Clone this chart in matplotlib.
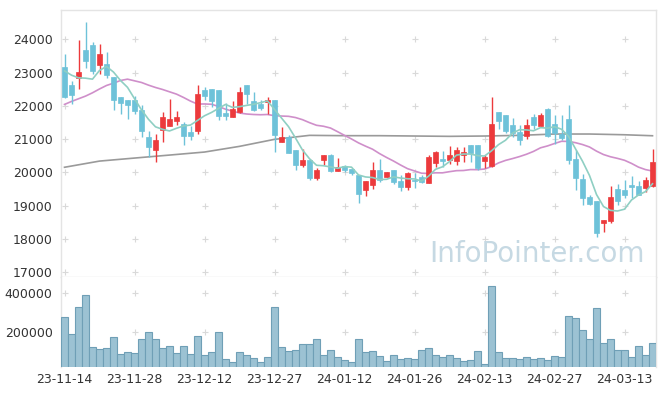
import matplotlib
matplotlib.use("Agg")
import matplotlib.pyplot as plt
import numpy as np
import pandas as pd

# ---------------- data ----------------
dates = [
    "2023-11-14", "2023-11-15", "2023-11-16", "2023-11-17", "2023-11-20", "2023-11-21", "2023-11-22",
    "2023-11-23", "2023-11-24", "2023-11-27", "2023-11-28", "2023-11-29", "2023-11-30", "2023-12-01",
    "2023-12-04", "2023-12-05", "2023-12-06", "2023-12-07", "2023-12-08", "2023-12-11", "2023-12-12",
    "2023-12-13", "2023-12-14", "2023-12-15", "2023-12-18", "2023-12-19", "2023-12-20", "2023-12-21",
    "2023-12-22", "2023-12-26", "2023-12-27", "2023-12-28", "2024-01-02", "2024-01-03", "2024-01-04",
    "2024-01-05", "2024-01-08", "2024-01-09", "2024-01-10", "2024-01-11", "2024-01-12", "2024-01-15",
    "2024-01-16", "2024-01-17", "2024-01-18", "2024-01-19", "2024-01-22", "2024-01-23", "2024-01-24",
    "2024-01-25", "2024-01-26", "2024-01-29", "2024-01-30", "2024-01-31", "2024-02-01", "2024-02-02",
    "2024-02-05", "2024-02-06", "2024-02-07", "2024-02-08", "2024-02-13", "2024-02-14", "2024-02-15",
    "2024-02-16", "2024-02-19", "2024-02-20", "2024-02-21", "2024-02-22", "2024-02-23", "2024-02-26",
    "2024-02-27", "2024-02-28", "2024-02-29", "2024-03-04", "2024-03-05", "2024-03-06", "2024-03-07",
    "2024-03-08", "2024-03-11", "2024-03-12", "2024-03-13", "2024-03-14", "2024-03-15", "2024-03-18",
    "2024-03-19",
]

opens = [23175, 22624, 22844, 23678, 23828, 23226, 23257, 22865, 22263, 22173,
         22173, 21872, 21050, 20668, 21270, 21400, 21541, 21450, 21210, 21249,
         22474, 22504, 22474, 21773, 21652, 21803, 22624, 22150, 22052, 22104,
         22173, 20900, 21069, 20668, 20216, 20367, 19834, 20367, 20517, 20045,
         20186, 20096, 19928, 19464, 19614, 20078, 19864, 20078, 19744, 19563,
         19765, 19846, 19665, 20286, 20388, 20367, 20346, 20517, 20818, 20818,
         20346, 20186, 21803, 21722, 21420, 21220, 21098, 21652, 21400, 21902,
         21450, 21140, 21601, 20397, 19795, 19253, 19133, 18480, 18531, 19494,
         19464, 19614, 19584, 19533, 19584]
highs = [23550, 22754, 23979, 24530, 23910, 23850, 23609, 22865, 22263, 22173,
         22302, 22022, 21240, 21150, 21803, 22194, 21851, 21510, 21400, 22624,
         22574, 22504, 22474, 22074, 22152, 22574, 22624, 22400, 22173, 22254,
         22173, 21351, 21120, 20668, 20689, 20397, 20117, 20517, 20540, 20436,
         20216, 20096, 19928, 19735, 20298, 20388, 20015, 20078, 19915, 20015,
         19967, 19915, 20517, 20648, 20648, 20788, 20749, 20749, 20818, 20818,
         20517, 22273, 21803, 21722, 21622, 21420, 21592, 21752, 21793, 21942,
         21722, 21722, 22034, 20668, 19960, 19313, 19133, 18561, 19584, 19635,
         19765, 19885, 19735, 19865, 20698]
lows = [22240, 22043, 22504, 23127, 22946, 22955, 22826, 21872, 21743, 21592,
        21752, 21050, 20448, 20316, 20900, 21380, 21420, 20818, 20969, 21150,
        22173, 21971, 21571, 21571, 21652, 21790, 22052, 21850, 21872, 21752,
        20599, 20900, 20587, 20066, 20165, 19765, 19765, 20216, 20000, 20045,
        20000, 19915, 19082, 19283, 19506, 19714, 19864, 19636, 19443, 19464,
        19533, 19665, 19665, 20165, 20165, 20246, 20216, 20316, 20316, 20066,
        20117, 20147, 21290, 21170, 21070, 20818, 20990, 21290, 21400, 21050,
        20840, 20969, 20260, 19464, 19012, 19012, 18058, 18191, 18480, 19012,
        19232, 19232, 19313, 19413, 19564]
closes = [22250, 22323, 23016, 23356, 23055, 23558, 22925, 22173, 22092, 22022,
          21851, 21249, 20749, 20960, 21652, 21601, 21652, 21098, 21098, 22345,
          22302, 22152, 21700, 21700, 21902, 22405, 22345, 21872, 21941, 22173,
          21120, 21050, 20587, 20216, 20367, 19816, 20066, 20517, 20036, 20165,
          20066, 19985, 19344, 19735, 20078, 19765, 20015, 19714, 19563, 19967,
          19735, 19694, 20448, 20599, 20346, 20517, 20668, 20617, 20587, 20117,
          20448, 21450, 21550, 21249, 21180, 20969, 21420, 21420, 21722, 21098,
          21190, 21038, 20367, 19834, 19232, 19042, 18179, 18561, 19253, 19142,
          19313, 19563, 19313, 19765, 20316]
volumes = [275000, 188000, 327000, 391000, 119000, 110000, 113000, 171000, 82000, 93000,
           87000, 160000, 197000, 160000, 113000, 127000, 87000, 124000, 82000, 176000,
           77000, 93000, 197000, 56000, 41000, 93000, 77000, 61000, 41000, 67000,
           327000, 119000, 98000, 103000, 134000, 134000, 160000, 77000, 103000, 67000,
           51000, 41000, 160000, 93000, 98000, 72000, 46000, 77000, 56000, 61000,
           56000, 106000, 113000, 77000, 67000, 77000, 61000, 46000, 51000, 98000,
           30000, 436000, 93000, 61000, 61000, 56000, 67000, 56000, 61000, 51000,
           72000, 67000, 280000, 270000, 207000, 160000, 322000, 140000, 160000, 103000,
           103000, 67000, 124000, 77000, 140000]

ma5_start = [23050, 22920, 22840, 22830]
ma20_start = [22040, 22130, 22210, 22290, 22390, 22505, 22610, 22680, 22760, 22800,
              22750, 22700, 22620, 22550, 22490, 22420, 22350, 22250, 22140]
# long moving average (at every 5th session)
ma120_day = [0, 5, 10, 15, 20, 25, 30, 35, 40, 45, 50, 55, 60, 65, 70, 75, 80, 84]
ma120_val = [20150, 20336, 20427, 20517, 20608, 20779, 20990, 21110, 21100, 21100,
             21090, 21080, 21090, 21110, 21150, 21150, 21128, 21098]

price_ticks = [17000, 18000, 19000, 20000, 21000, 22000, 23000, 24000]
volume_ticks = [200000, 400000]
label_every = 10
watermark = "InfoPointer.com"

# ---------------- derived series ----------------
df = pd.DataFrame({"open": opens, "high": highs, "low": lows, "close": closes, "volume": volumes},
                  index=pd.to_datetime(dates))
ma5 = df["close"].rolling(5).mean().to_numpy()
ma5[:len(ma5_start)] = ma5_start
ma20 = df["close"].rolling(20).mean().to_numpy()
ma20[:len(ma20_start)] = ma20_start

n = len(df)
x = np.arange(n)

UP = "#ec3a3c"
DOWN = "#6ec2d9"
GRID = "#d9d9d9"
SPINE = "#e4e4e4"
TXT = "#333333"

plt.rcParams["font.family"] = ["DejaVu Sans"]

fig = plt.figure(figsize=(6.65, 3.96), dpi=100)
W, H = 665, 396
L, R = 61, 656
ax1 = fig.add_axes([L / W, (H - 277) / H, (R - L) / W, (277 - 10) / H])
ax2 = fig.add_axes([L / W, (H - 367) / H, (R - L) / W, (367 - 277) / H], sharex=ax1)

# ---- price panel ----
o = df["open"].to_numpy()
c = df["close"].to_numpy()
hi = df["high"].to_numpy()
lo = df["low"].to_numpy()
up = c >= o
cols = np.where(up, UP, DOWN)

# grid crosses
for xt in x[::label_every]:
    ax1.plot([xt] * len(price_ticks), price_ticks, ls="none", marker="+", ms=5, mew=0.8,
             color=GRID, zorder=0)
    ax2.plot([xt] * len(volume_ticks), volume_ticks, ls="none", marker="+", ms=5, mew=0.8,
             color=GRID, zorder=0)

ax1.text(0.80, 0.085, watermark, transform=ax1.transAxes, ha="center", va="center",
         fontsize=20, color="#c6d9e3", zorder=1)

ax1.vlines(x, lo, hi, colors=cols, lw=1.0, zorder=3)
body_bottom = np.minimum(o, c)
body_h = np.maximum(np.abs(c - o), 25)
ax1.bar(x, body_h, bottom=body_bottom, width=0.72, color=cols, edgecolor=cols, lw=0.5, zorder=4)

ax1.plot(ma120_day, ma120_val, color="#9a9a9a", lw=1.2, zorder=2)
ax1.plot(x, ma20, color="#cf8fca", lw=1.2, zorder=2)
ax1.plot(x, ma5, color="#8fcfc3", lw=1.2, zorder=5)

ax1.set_ylim(16850, 24880)
ax1.set_xlim(-0.5, n - 0.5)
ax1.set_yticks(price_ticks)
ax1.set_yticklabels([str(t) for t in price_ticks])
ax1.tick_params(axis="y", length=0, pad=6, labelsize=9, labelcolor=TXT)
ax1.tick_params(axis="x", length=0, labelbottom=False)

# ---- volume panel ----
ax2.bar(x, df["volume"].to_numpy(), width=1.0, color="#9cc2d3", edgecolor="#6f9fb6",
        lw=0.8, zorder=3)
ax2.set_ylim(16000, 485000)
ax2.set_yticks(volume_ticks)
ax2.set_yticklabels([str(t) for t in volume_ticks])
ax2.tick_params(axis="y", length=0, pad=6, labelsize=9, labelcolor=TXT)
ax2.set_xticks(x[::label_every])
ax2.set_xticklabels([d.strftime("%y-%m-%d") for d in df.index[::label_every]])
ax2.tick_params(axis="x", length=0, pad=4, labelsize=9, labelcolor=TXT)

for ax in (ax1, ax2):
    for s in ax.spines.values():
        s.set_color(SPINE)
        s.set_linewidth(1.0)
ax2.spines["bottom"].set_visible(False)
ax2.spines["top"].set_visible(False)

fig.savefig("out.png", dpi=100, facecolor="white")
